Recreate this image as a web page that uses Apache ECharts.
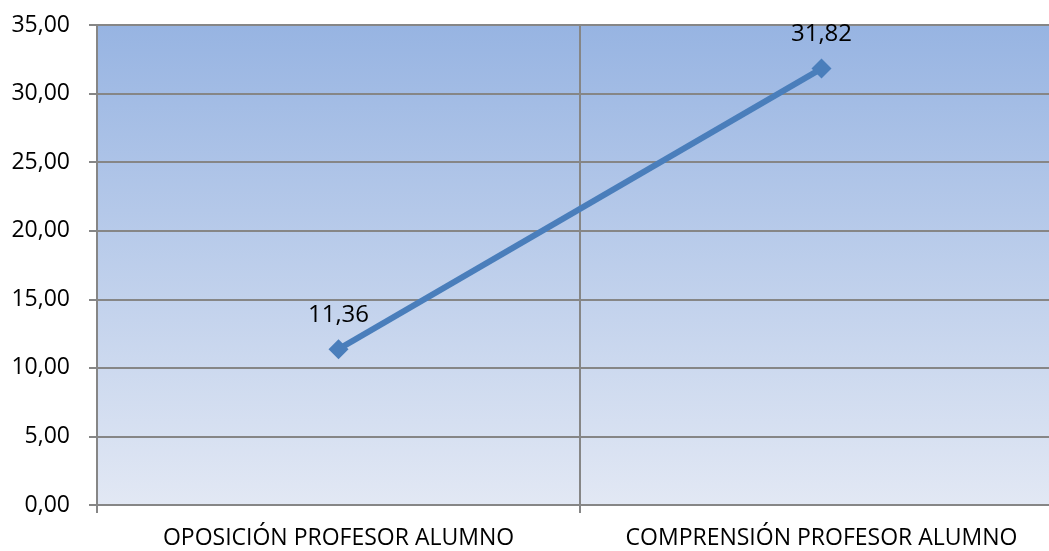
<!DOCTYPE html>
<html>
<head>
<meta charset="utf-8">
<script src="https://cdn.jsdelivr.net/npm/echarts@6/dist/echarts.min.js"></script>
<style>
  html, body { margin: 0; padding: 0; background: #fff; }
  #chart { width: 1049px; height: 551px; }
</style>
</head>
<body>
<div id="chart"></div>
<script>
// Categories and values of the line series
var categories = ['OPOSICIÓN PROFESOR ALUMNO', 'COMPRENSIÓN PROFESOR ALUMNO'];
var values = [11.36, 31.82];
// Value axis range
var yMin = 0;
var yMax = 35;
var yStep = 5;

function fmt(v) {
  return Number(v).toFixed(2).replace('.', ',');
}

var FONT = '"Open Sans", "Noto Sans", sans-serif';

var chart = echarts.init(document.getElementById('chart'), null, { renderer: 'canvas' });
chart.setOption({
  animation: false,
  grid: {
    left: 97, top: 25, width: 966, height: 480,
    outerBoundsMode: 'none',
    containLabel: false,
    show: true,
    borderWidth: 0,
    backgroundColor: new echarts.graphic.LinearGradient(0, 0, 0, 1, [
      { offset: 0, color: '#97b4e2' },
      { offset: 1, color: '#e2e8f4' }
    ])
  },
  xAxis: {
    type: 'category',
    data: categories,
    boundaryGap: true,
    axisLine: { show: true, lineStyle: { color: '#868686', width: 2 } },
    axisTick: { show: true, interval: 0, length: 8, alignWithLabel: false, lineStyle: { color: '#868686', width: 2 } },
    splitLine: { show: true, interval: 0, lineStyle: { color: '#868686', width: 2 } },
    axisLabel: { color: '#000', interval: 0, hideOverlap: false, fontSize: 23, fontFamily: FONT, margin: 22 }
  },
  yAxis: {
    type: 'value',
    min: yMin, max: yMax, interval: yStep,
    axisLine: { show: true, lineStyle: { color: '#868686', width: 2 } },
    axisTick: { show: true, length: 8, lineStyle: { color: '#868686', width: 2 } },
    splitLine: { show: true, lineStyle: { color: '#868686', width: 2 } },
    axisLabel: { color: '#000', fontSize: 23, fontFamily: FONT, margin: 27, formatter: fmt }
  },
  series: [{
    type: 'line',
    data: values,
    symbol: 'diamond',
    symbolSize: 20,
    lineStyle: { color: '#4a7ebb', width: 6 },
    itemStyle: { color: '#4a7ebb' },
    label: {
      show: true, position: 'top', distance: 12,
      color: '#000', fontSize: 24, fontFamily: FONT,
      formatter: function (p) { return fmt(p.value); }
    }
  }]
});
</script>
</body>
</html>
